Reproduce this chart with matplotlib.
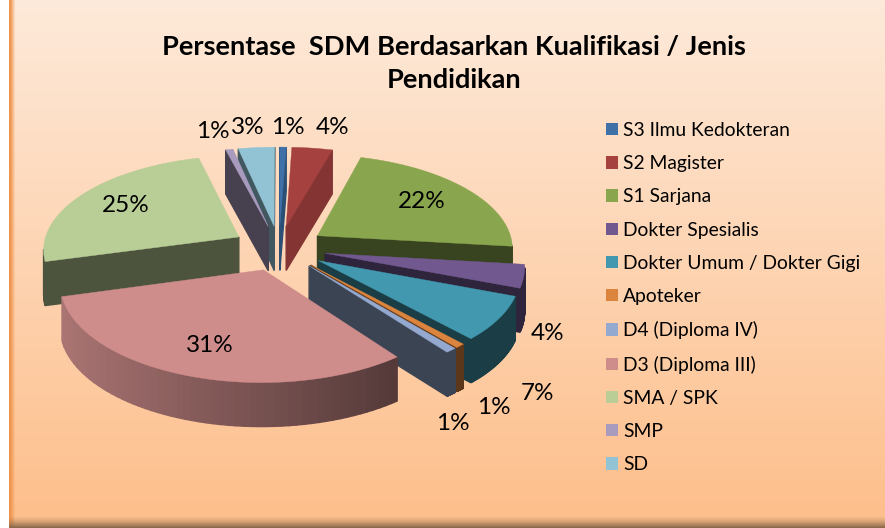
import numpy as np
import matplotlib
matplotlib.use("Agg")
import matplotlib.pyplot as plt
import matplotlib.patches as mpatches

categories = ["S3 Ilmu Kedokteran", "S2 Magister", "S1 Sarjana", "Dokter Spesialis",
              "Dokter Umum / Dokter Gigi", "Apoteker", "D4 (Diploma IV)", "D3 (Diploma III)",
              "SMA / SPK", "SMP", "SD"]
# the labels round these
percent = [0.6, 3.8, 22.4, 3.9, 7.4, 0.7, 0.8, 31.1, 25.1, 0.7, 3.4]

colors = ["#3f71a8", "#a54240", "#89a54e", "#71588f", "#4198af", "#db843d",
          "#93a9cf", "#ce8d8b", "#b9cd96", "#a99bbd", "#92c3d5"]
wall_shade = [0.7, 0.8, 0.41, 0.41, 0.4, 0.42, 0.4, 0.5, 0.41, 0.42, 0.45]

# where the percent labels sit, in pixels
label_xy = [(288, 127), (333, 127), (422, 202), (548, 333), (538, 393), (494, 407),
            (453, 424), (210, 345), (126, 205), (213, 132), (248, 127)]

# pie projection
CX, CY = 279, 248
RX, RY = 196, 93.5
PERSP = 0.12
DEPTH = 44

plt.rcParams["font.family"] = ["Lato", "DejaVu Sans"]


def project(x, y, z=0.0):
    w = 1 + PERSP * y
    return CX + RX * x / w, CY - RY * y / w + DEPTH * z


def scale_color(col, f):
    rgb = np.array(matplotlib.colors.to_rgb(col))
    return tuple(np.clip(rgb * f, 0, 1))


def shoelace(p):
    return np.sum(p[:, 0] * np.roll(p[:, 1], -1) - np.roll(p[:, 0], -1) * p[:, 1])


def draw_slice(ax, wedge, col, shade, gradient=False):
    cx, cy = wedge.center
    angles = np.radians(np.linspace(wedge.theta1, wedge.theta2, 60))
    pts = [(cx, cy)] + [(cx + wedge.r * np.cos(a), cy + wedge.r * np.sin(a)) for a in angles]
    top = np.array([project(x, y) for x, y in pts])
    bot = np.array([project(x, y, 1.0) for x, y in pts])
    n = len(top)
    area = shoelace(top)
    for i in range(n):
        j = (i + 1) % n
        quad = np.array([top[i], top[j], bot[j], bot[i]])
        # only walls that face the viewer
        if shoelace(quad) * area >= 0:
            continue
        f = shade
        if gradient and 0 < i < n - 1:
            # arc wall gets lighter towards the left
            f = np.clip(0.57 - 0.27 * np.cos(angles[i - 1]), 0.4, 0.85)
        c = scale_color(col, f)
        ax.add_patch(mpatches.Polygon(quad, closed=True, facecolor=c, edgecolor=c, linewidth=1.0))
    ax.add_patch(mpatches.Polygon(top, closed=True, facecolor=col, edgecolor=col, linewidth=0.3))


def make_background(ax):
    h, w = 528, 885
    t = np.linspace(0, 1, h)[:, None]
    c0 = np.array([254, 234, 218]) / 255
    c1 = np.array([253, 190, 138]) / 255
    img = np.ones((h, w, 3))
    img[:] = (c0 + (c1 - c0) * t)[:, None, :].reshape(h, 1, 3)
    # left orange edge
    edge = np.array([238, 150, 80]) / 255
    for x in range(9, 16):
        k = np.clip((15 - x) / 5, 0, 1)
        img[:, x] = img[:, x] * (1 - k) + edge * k
    img[:, :9] = 1.0
    # bottom shadow
    shadow = np.array([140, 105, 75]) / 255
    for y in range(515, 528):
        k = ((y - 515) / 12) ** 1.5
        img[y, 9:] = img[y, 9:] * (1 - k) + shadow * k
    ax.imshow(img, extent=(0, w, h, 0), aspect="auto", zorder=0, interpolation="bilinear")


fig = plt.figure(figsize=(8.85, 5.28), dpi=100)
ax = fig.add_axes([0, 0, 1, 1])

wedges, _ = ax.pie(percent, explode=[0.24] * len(percent), startangle=90, counterclock=False,
                   radius=1, colors=colors)
slices = list(wedges)
for w in wedges:
    w.set_visible(False)

ax.set_aspect("auto")
make_background(ax)
ax.set_xlim(0, 885)
ax.set_ylim(528, 0)
ax.axis("off")

# back slices first
order = sorted(range(len(percent)), key=lambda i: -slices[i].center[1])
for i in order:
    draw_slice(ax, slices[i], colors[i], wall_shade[i], gradient=categories[i].startswith("D3"))

for v, (x, y) in zip(percent, label_xy):
    ax.text(x, y, f"{v:.0f}%", ha="center", va="center", fontsize=17.5, color="black")

ax.text(454, 63.5, "Persentase  SDM Berdasarkan Kualifikasi / Jenis\nPendidikan", ha="center",
        va="center", fontsize=19.6, fontweight="bold", color="black", linespacing=1.5)

handles = [mpatches.Patch(facecolor=c, edgecolor="none") for c in colors]
ax.legend(handles, categories, loc="upper left", bbox_to_anchor=(606 / 885, 1 - 122 / 528),
          frameon=False, fontsize=13.9, handlelength=0.6, handleheight=0.6, handletextpad=0.3,
          labelspacing=0.84, borderpad=0, borderaxespad=0)

fig.savefig("out.png", dpi=100)
